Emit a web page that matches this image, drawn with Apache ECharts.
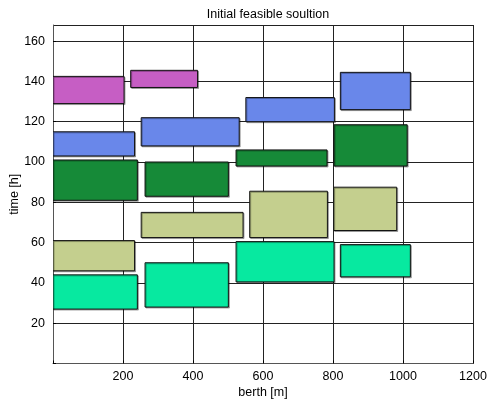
<!DOCTYPE html>
<html>
<head>
<meta charset="utf-8">
<script src="https://cdn.jsdelivr.net/npm/echarts@6/dist/echarts.min.js"></script>
<style>
  html, body { margin: 0; padding: 0; background: #fff; }
  #chart { width: 487px; height: 406px; }
</style>
</head>
<body>
<div id="chart"></div>
<script>
// ship blocks: berth position [m] and time window [h]
const berthStart = [0, 222, 0, 252, 551, 821, 0, 263, 523, 803, 0, 252, 562, 802, 0, 263, 523, 821];
const berthEnd   = [203, 413, 233, 532, 804, 1021, 241, 501, 783, 1012, 233, 543, 784, 982, 241, 501, 803, 1021];
const timeStart  = [129, 137, 103, 108, 120, 126, 81, 83, 98, 98, 46, 62.5, 62.5, 66, 27, 28, 40.5, 43];
const timeEnd    = [142.5, 145.5, 115, 122, 132, 144.5, 101, 100, 106, 118.5, 61, 75, 85.5, 87.5, 44, 50, 60.5, 59];
const groupIdx   = [0, 0, 1, 1, 1, 1, 2, 2, 2, 2, 3, 3, 3, 3, 4, 4, 4, 4];
const groupColors = ['#C65EC4', '#6987EA', '#168A38', '#C4CF8E', '#07E9A0'];
const xTicks = [200, 400, 600, 800, 1000, 1200];
const yTicks = [20, 40, 60, 80, 100, 120, 140, 160];

const chart = echarts.init(document.getElementById('chart'));

const blocks = berthStart.map(function (b, i) {
    return [b, berthEnd[i], timeStart[i], timeEnd[i], groupIdx[i]];
});

const font = 'Liberation Sans, Arial, sans-serif';

let option = {
    animation: false,
    title: {
        text: 'Initial feasible soultion',
        left: 263,
        textAlign: 'center',
        top: 3,
        textStyle: { fontFamily: font, fontSize: 12.5, fontWeight: 'normal', color: '#000' }
    },
    grid: { left: 53, right: 14, top: 25, bottom: 42.5, outerBoundsMode: 'none', containLabel: false },
    xAxis: {
        type: 'value',
        min: 0,
        max: 1200,
        interval: 200,
        name: 'berth [m]',
        nameLocation: 'middle',
        nameGap: 23,
        nameMoveOverlap: false,
        nameTextStyle: { fontFamily: font, fontSize: 12.5, color: '#000' },
        axisLine: { show: true, lineStyle: { color: '#555', width: 1 } },
        axisTick: { show: true, inside: true, length: 3, lineStyle: { color: '#000' } },
        axisLabel: {
            fontFamily: font, fontSize: 12.5, color: '#000', margin: 7,
            formatter: function (v) { return xTicks.indexOf(v) >= 0 ? String(v) : ''; }
        },
        splitLine: { show: true, lineStyle: { color: '#222', width: 1 } }
    },
    yAxis: {
        type: 'value',
        min: 0,
        max: 168,
        interval: 20,
        name: 'time [h]',
        nameLocation: 'middle',
        nameGap: 32,
        nameMoveOverlap: false,
        nameTextStyle: { fontFamily: font, fontSize: 12.5, color: '#000' },
        axisLine: { show: true, lineStyle: { color: '#555', width: 1 } },
        axisTick: { show: true, inside: true, length: 3, lineStyle: { color: '#000' } },
        axisLabel: {
            fontFamily: font, fontSize: 12.5, color: '#000', margin: 8,
            showMaxLabel: false,
            formatter: function (v) { return yTicks.indexOf(v) >= 0 ? String(v) : ''; }
        },
        splitLine: { show: true, lineStyle: { color: '#222', width: 1 } }
    },
    series: [{
        type: 'custom',
        clip: true,
        encode: { x: [0, 1], y: [2, 3] },
        data: blocks,
        renderItem: function (params, api) {
            const p0 = api.coord([api.value(0), api.value(3)]);
            const p1 = api.coord([api.value(1), api.value(2)]);
            return {
                type: 'rect',
                shape: { x: p0[0], y: p0[1], width: p1[0] - p0[0], height: p1[1] - p0[1] },
                style: {
                    fill: groupColors[api.value(4)],
                    stroke: '#111',
                    lineWidth: 1,
                    shadowColor: 'rgba(0,0,0,0.3)',
                    shadowBlur: 0,
                    shadowOffsetX: 1,
                    shadowOffsetY: 1
                }
            };
        }
    }]
};

chart.setOption(option);
</script>
</body>
</html>
